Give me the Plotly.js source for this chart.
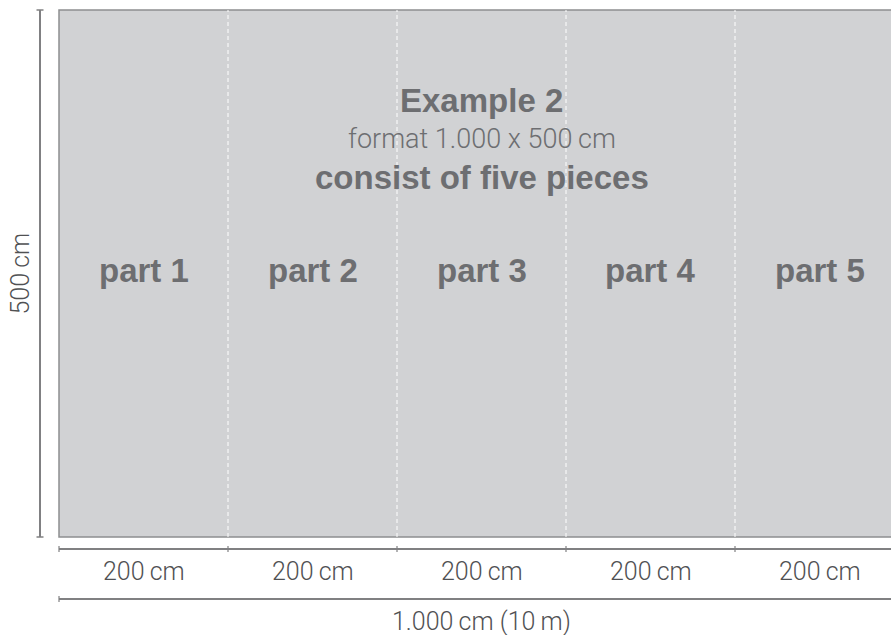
<!DOCTYPE html>
<html>
<head>
<meta charset="utf-8">
<script src="https://cdn.plot.ly/plotly-3.0.1.min.js"></script>
<style>html,body{margin:0;padding:0;background:#fff}#chart{width:891px;height:635px}</style>
</head>
<body>
<div id="chart"></div>
<script>
// ---- data ----
const partLabels = ['part 1', 'part 2', 'part 3', 'part 4', 'part 5'];
const partWidths = [200, 200, 200, 200, 200];          // cm
const totalHeight = 500;                                  // cm
const titleLines = ['Example 2', 'format 1.000 x 500\u2009cm', 'consist of five pieces'];
const totalWidthLabel = '1.000\u2009cm (10\u2009m)';
const heightLabel = '500\u2009cm';
const unit = 'cm';

// ---- layout helpers ----
const W = 891, H = 635;
const totalWidth = partWidths.reduce((a, b) => a + b, 0);
const X0PX = 59, X1PX = 904, Y0PX = 537, Y1PX = 10;     // where the wall sits on the page
const sx = (X1PX - X0PX) / totalWidth, sy = (Y0PX - Y1PX) / totalHeight;
const xr = [-X0PX / sx, (W - X0PX) / sx];
const yr = [-(H - Y0PX) / sy, totalHeight + Y1PX / sy];
const dx = px => (px - X0PX) / sx;        // page px -> data x
const dy = px => (Y0PX - px) / sy;        // page px -> data y
const py = px => 1 - px / H;              // page px -> paper y

const bounds = [0];
partWidths.forEach(w => bounds.push(bounds[bounds.length - 1] + w));
const centers = partWidths.map((w, i) => bounds[i] + w / 2);

const boldFont = {family: 'Liberation Sans, Arial, sans-serif', size: 33, color: '#6d6e71', weight: 700};
const lightFont = {family: 'Roboto, Liberation Sans, sans-serif', size: 27, color: '#6d6e71', weight: 300};
const dimFont = {family: 'Roboto, Liberation Sans, sans-serif', size: 25, color: '#505153', weight: 300};
const dimColor = '#808082';

const shapes = [];
// wall
shapes.push({type: 'rect', xref: 'x', yref: 'y', x0: 0, x1: totalWidth, y0: 0, y1: totalHeight,
  fillcolor: '#d1d2d4', line: {color: '#8d8e90', width: 1.5}, layer: 'below'});
// dashed part separators
bounds.slice(1, -1).forEach(b => shapes.push({type: 'line', xref: 'x', yref: 'y', x0: b, x1: b, y0: 0, y1: totalHeight,
  line: {color: '#ffffff', width: 1, dash: '4px,3px'}}));
// left height dimension
const hx = dx(40), cap = 3.5 / sx;
shapes.push({type: 'line', xref: 'x', yref: 'y', x0: hx, x1: hx, y0: 0, y1: totalHeight, line: {color: dimColor, width: 2}});
[0, totalHeight].forEach(v => shapes.push({type: 'line', xref: 'x', yref: 'y', x0: hx - cap, x1: hx + cap, y0: v, y1: v,
  line: {color: dimColor, width: 1.5}}));
// bottom part-width dimension
const d1 = dy(549), d2 = dy(599), tk = 3 / sy;
shapes.push({type: 'line', xref: 'x', yref: 'y', x0: 0, x1: totalWidth, y0: d1, y1: d1, line: {color: dimColor, width: 2}});
bounds.forEach(b => shapes.push({type: 'line', xref: 'x', yref: 'y', x0: b, x1: b, y0: d1 - tk, y1: d1 + tk,
  line: {color: dimColor, width: 1.2}}));
// total width dimension
shapes.push({type: 'line', xref: 'x', yref: 'y', x0: 0, x1: totalWidth, y0: d2, y1: d2, line: {color: dimColor, width: 2}});
[0, totalWidth].forEach(b => shapes.push({type: 'line', xref: 'x', yref: 'y', x0: b, x1: b, y0: d2 - tk, y1: d2 + tk,
  line: {color: dimColor, width: 1.2}}));

const ann = [];
const mid = totalWidth / 2;
const txt = (x, ypx, text, font, extra) => Object.assign({xref: 'x', yref: 'paper', x: x, y: py(ypx), text: text,
  showarrow: false, font: font, xanchor: 'center', yanchor: 'middle', borderpad: 0}, extra || {});
ann.push(txt(mid, 101, titleLines[0], boldFont));
ann.push(txt(mid, 139, titleLines[1], lightFont));
ann.push(txt(mid, 177, titleLines[2], boldFont));
partLabels.forEach((p, i) => ann.push(txt(centers[i], 270, p, boldFont)));
partWidths.forEach((w, i) => ann.push(txt(centers[i], 571, w + '\u2009' + unit, dimFont)));
ann.push(txt(mid, 621, totalWidthLabel, dimFont));
ann.push({xref: 'x', yref: 'y', x: dx(20), y: totalHeight / 2, text: heightLabel, textangle: -90, showarrow: false,
  font: dimFont, xanchor: 'center', yanchor: 'middle', borderpad: 0});

Plotly.newPlot('chart', [], {
  width: W, height: H, margin: {l: 0, r: 0, t: 0, b: 0},
  paper_bgcolor: '#ffffff', plot_bgcolor: '#ffffff', showlegend: false,
  xaxis: {range: xr, visible: false, fixedrange: true},
  yaxis: {range: yr, visible: false, fixedrange: true},
  shapes: shapes, annotations: ann
}, {staticPlot: true, displayModeBar: false});
</script>
</body>
</html>
